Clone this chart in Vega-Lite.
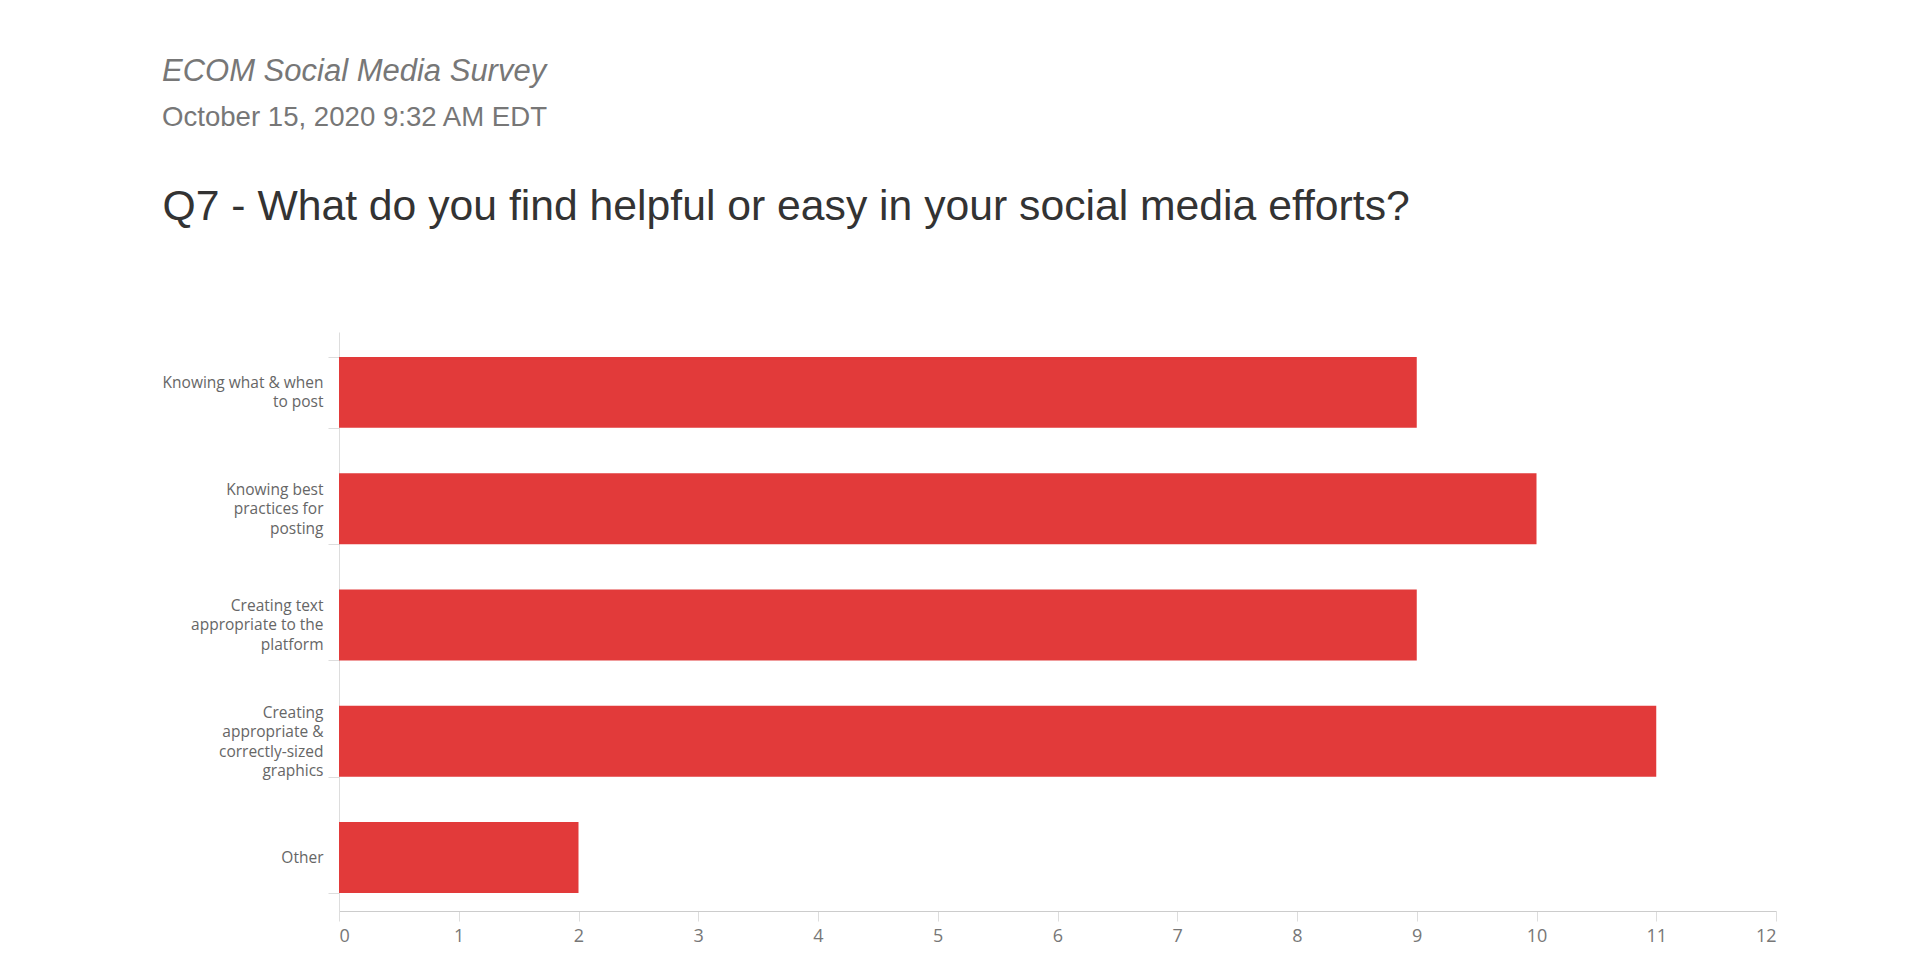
{
  "$schema": "https://vega.github.io/schema/vega-lite/v6.json",
  "autosize": {"type": "none"},
  "padding": {"left": 339, "top": 332, "right": 152, "bottom": 49},
  "width": 1437,
  "height": 579,
  "background": "white",
  "config": {"view": {"stroke": null}},
  "title": {
    "text": "ECOM Social Media Survey",
    "subtitle": "October 15, 2020 9:32 AM EDT",
    "anchor": "start",
    "frame": "group",
    "dx": -177,
    "offset": 52,
    "font": "Liberation Sans",
    "fontSize": 31,
    "fontStyle": "italic",
    "fontWeight": "normal",
    "color": "#777777",
    "subtitleFont": "Liberation Sans",
    "subtitleFontSize": 27.6,
    "subtitleColor": "#777777",
    "subtitlePadding": 16
  },
  "data": {
    "values": [
      {"option": "Knowing what & when|to post", "count": 9},
      {"option": "Knowing best|practices for|posting", "count": 10},
      {"option": "Creating text|appropriate to the|platform", "count": 9},
      {"option": "Creating|appropriate &|correctly-sized|graphics", "count": 11},
      {"option": "Other", "count": 2}
    ]
  },
  "mark": {"type": "bar", "color": "#E23A3A"},
  "encoding": {
    "y": {
      "field": "option",
      "type": "nominal",
      "sort": null,
      "scale": {"paddingInner": 0.39, "paddingOuter": 0.185, "align": 0.58},
      "axis": {
        "title": "Q7 - What do you find helpful or easy in your social media efforts?",
        "titleAngle": 0,
        "titleAlign": "left",
        "titleBaseline": "alphabetic",
        "titleX": -177,
        "titleY": -113,
        "titleFont": "Liberation Sans",
        "titleFontSize": 42.7,
        "titleFontWeight": "normal",
        "titleColor": "#333333",
        "titleLimit": 2000,
        "labelExpr": "isValid(datum.value) ? split(datum.value, '|') : ''",
        "labelFont": "Open Sans",
        "labelFontSize": 15.5,
        "labelColor": "#666666",
        "labelLineHeight": 19.5,
        "labelLimit": 400,
        "labelPadding": 5,
        "labelOffset": {
          "condition": [
            {"test": "isValid(datum.value) && length(split(datum.value, '|')) == 2", "value": -10},
            {"test": "isValid(datum.value) && length(split(datum.value, '|')) == 3", "value": -19.5},
            {"test": "isValid(datum.value) && length(split(datum.value, '|')) == 4", "value": -29}
          ],
          "value": 0
        },
        "tickBand": "extent",
        "tickColor": "#dddddd",
        "tickSize": 11,
        "domainColor": "#dddddd"
      }
    },
    "x": {
      "field": "count",
      "type": "quantitative",
      "scale": {"domain": [0, 12], "nice": false},
      "axis": {
        "title": null,
        "values": [0, 1, 2, 3, 4, 5, 6, 7, 8, 9, 10, 11, 12],
        "grid": false,
        "labelFont": "Open Sans",
        "labelFontSize": 18,
        "labelColor": "#777777",
        "labelPadding": 6,
        "tickColor": "#dddddd",
        "tickSize": 10,
        "domainColor": "#cccccc"
      }
    }
  }
}
